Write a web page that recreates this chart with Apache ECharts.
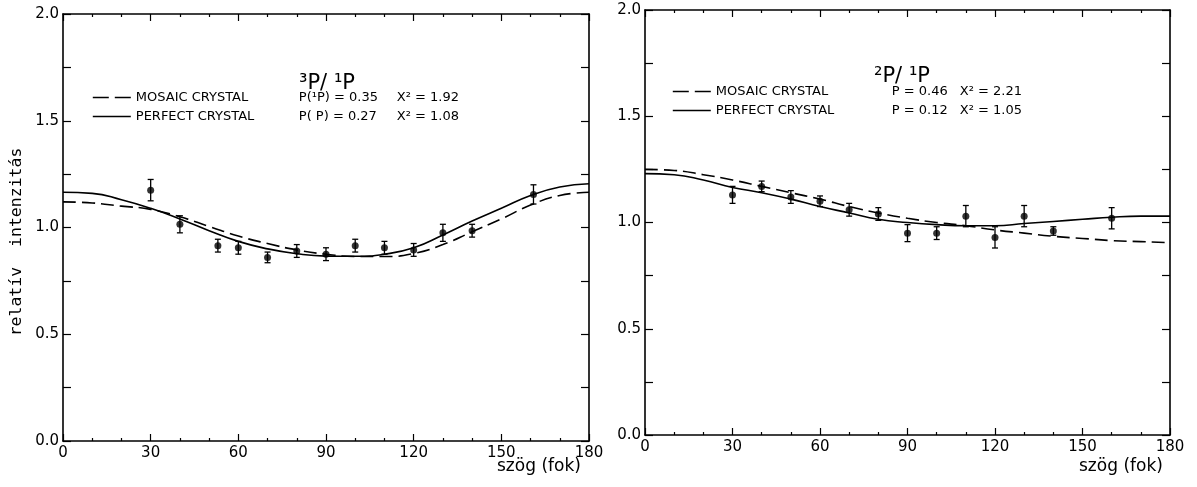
<!DOCTYPE html>
<html>
<head>
<meta charset="utf-8">
<script src="https://cdn.jsdelivr.net/npm/echarts@6/dist/echarts.min.js"></script>
<style>html,body{margin:0;padding:0;background:#fff}#c{width:1197px;height:487px}</style>
</head>
<body>
<div id="c"></div>
<script>
// ---- data ----
const curveAngles = [0,10,20,30,40,50,60,70,80,90,100,110,120,130,140,150,160,170,180];

// left panel: 3P/1P
const leftSolid  = [1.165,1.16,1.13,1.09,1.04,0.985,0.935,0.9,0.877,0.866,0.865,0.875,0.905,0.965,1.03,1.09,1.15,1.19,1.205];
const leftDashed = [1.12,1.115,1.10,1.085,1.05,1.005,0.96,0.925,0.895,0.875,0.864,0.864,0.878,0.92,0.98,1.04,1.105,1.15,1.165];
const leftAngles = [30,40,53,60,70,80,90,100,110,120,130,140,161];
const leftValues = [1.175,1.015,0.915,0.905,0.86,0.89,0.875,0.915,0.905,0.895,0.975,0.985,1.155];
const leftErrors = [0.05,0.04,0.03,0.03,0.025,0.03,0.03,0.03,0.03,0.03,0.04,0.03,0.045];

// right panel: 2P/1P
const rightSolid  = [1.23,1.225,1.20,1.165,1.14,1.11,1.075,1.045,1.015,1.0,0.99,0.985,0.985,0.995,1.005,1.015,1.025,1.03,1.03];
const rightDashed = [1.25,1.245,1.225,1.20,1.17,1.14,1.11,1.075,1.045,1.02,1.0,0.985,0.965,0.95,0.935,0.925,0.915,0.91,0.905];
const rightAngles = [30,40,50,60,70,80,90,100,110,120,130,140,160];
const rightValues = [1.13,1.17,1.12,1.10,1.06,1.04,0.95,0.95,1.03,0.93,1.03,0.96,1.02];
const rightErrors = [0.04,0.025,0.03,0.025,0.03,0.03,0.04,0.03,0.05,0.05,0.05,0.02,0.05];

const xTickLabels = ['0','30','60','90','120','150','180'];
const yTickLabels = ['0.0','0.5','1.0','1.5','2.0'];

const yAxisTitle = 'relatív  intenzitás';
const xAxisTitle = 'szög (fok)';
const leftTitle = '³P/ ¹P';
const rightTitle = '²P/ ¹P';
const leftLegend = {
  mosaic: ['MOSAIC CRYSTAL', 'P(¹P) = 0.35', 'X² = 1.92'],
  perfect: ['PERFECT CRYSTAL', 'P( P) = 0.27', 'X² = 1.08']
};
const rightLegend = {
  mosaic: ['MOSAIC CRYSTAL', 'P = 0.46', 'X² = 2.21'],
  perfect: ['PERFECT CRYSTAL', 'P = 0.12', 'X² = 1.05']
};

// ---- chart ----
const FONT = 'DejaVu Sans';
const chart = echarts.init(document.getElementById('c'), null, {renderer: 'canvas'});
const pairs = (xs, ys) => xs.map((x, i) => [x, ys[i]]);
const triples = (xs, ys, es) => xs.map((x, i) => [x, ys[i], es[i]]);

function xAxisPair(gi) {
  const base = {
    gridIndex: gi, type: 'value', min: 0, max: 180, interval: 30,
    axisLine: {show: true, onZero: false, lineStyle: {color: '#000', width: 1.6}},
    axisTick: {show: true, inside: true, length: 7, lineStyle: {color: '#000', width: 1.2}},
    minorTick: {show: true, splitNumber: 3, length: 3, lineStyle: {color: '#000', width: 1.2}},
    splitLine: {show: false}, minorSplitLine: {show: false}
  };
  return [
    Object.assign({}, base, {position: 'bottom',
      axisLabel: {show: true, color: '#000', fontFamily: FONT, fontSize: 15, margin: 5,
        formatter: v => xTickLabels[Math.round(v / 30)]}}),
    Object.assign({}, base, {position: 'top', axisLabel: {show: false}})
  ];
}
function yAxisPair(gi) {
  const base = {
    gridIndex: gi, type: 'value', min: 0, max: 2, interval: 0.25,
    axisLine: {show: true, onZero: false, lineStyle: {color: '#000', width: 1.6}},
    axisTick: {show: true, inside: true, length: 8, lineStyle: {color: '#000', width: 1.2}},
    splitLine: {show: false}
  };
  const left = Object.assign({}, base, {position: 'left',
    axisLabel: {show: true, color: '#000', fontFamily: FONT, fontSize: 15, margin: 4,
      formatter: v => (Math.abs(v * 2 - Math.round(v * 2)) < 1e-6) ? yTickLabels[Math.round(v * 2)] : ''}});
  return [left, Object.assign({}, base, {position: 'right', axisLabel: {show: false}})];
}

function errorBars(data, xi, yi) {
  return {
    type: 'custom', xAxisIndex: xi, yAxisIndex: yi, data: data, encode: {x: 0, y: 1},
    silent: true, z: 3,
    renderItem: function (params, api) {
      const x = api.value(0), y = api.value(1), e = api.value(2);
      const t = api.coord([x, y + e]);
      const b = api.coord([x, y - e]);
      const st = {stroke: '#000', lineWidth: 1.3};
      return {type: 'group', children: [
        {type: 'line', shape: {x1: t[0], y1: t[1], x2: b[0], y2: b[1]}, style: st},
        {type: 'line', shape: {x1: t[0] - 3, y1: t[1], x2: t[0] + 3, y2: t[1]}, style: st},
        {type: 'line', shape: {x1: b[0] - 3, y1: b[1], x2: b[0] + 3, y2: b[1]}, style: st}
      ]};
    }
  };
}
function curve(name, data, xi, yi, dashed) {
  return {
    type: 'line', name: name, xAxisIndex: xi, yAxisIndex: yi, data: data, smooth: 0.5,
    symbol: 'none', z: 2, itemStyle: {color: '#000'},
    lineStyle: {color: '#000', width: 1.6, type: dashed ? [13, 6] : 'solid'}
  };
}
function legendFor(names, leg, left, top, wa, wb) {
  const rich = {
    a: {width: wa, fontFamily: FONT, fontSize: 13, color: '#000'},
    b: {width: wb, fontFamily: FONT, fontSize: 13, color: '#000'},
    c: {fontFamily: FONT, fontSize: 13, color: '#000'}
  };
  return {
    data: [
      {name: names[0], lineStyle: {type: [16, 6], width: 1.6, color: '#000'}},
      {name: names[1], lineStyle: {type: 'solid', width: 1.6, color: '#000'}}
    ],
    orient: 'vertical', left: left, top: top, itemGap: 6,
    itemWidth: 38, itemHeight: 12, selectedMode: false,
    itemStyle: {color: 'rgba(0,0,0,0)', borderWidth: 0, opacity: 0},
    lineStyle: {color: '#000', width: 1.6},
    textStyle: {rich: rich},
    formatter: function (n) {
      const parts = n.indexOf('MOSAIC') >= 0 ? leg.mosaic : leg.perfect;
      return '{a|' + parts[0] + '}{b|' + parts[1] + '}{c|' + parts[2] + '}';
    }
  };
}

const lx = xAxisPair(0), rx = xAxisPair(1);
const ly = yAxisPair(0), ry = yAxisPair(1);

const option = {
  backgroundColor: '#fff',
  animation: false,
  grid: [
    {left: 63, top: 14, width: 526, height: 427},
    {left: 645, top: 10, width: 525, height: 425}
  ],
  xAxis: [lx[0], lx[1], rx[0], rx[1]],
  yAxis: [ly[0], ly[1], ry[0], ry[1]],
  title: [
    {text: leftTitle, left: 322, top: 68, textAlign: 'center',
      textStyle: {fontFamily: FONT, fontSize: 21, fontWeight: 'normal', color: '#000'}},
    {text: rightTitle, left: 897, top: 61, textAlign: 'center',
      textStyle: {fontFamily: FONT, fontSize: 21, fontWeight: 'normal', color: '#000'}}
  ],
  legend: [
    legendFor(['L MOSAIC', 'L PERFECT'], leftLegend, 87, 86, 163, 98),
    legendFor(['R MOSAIC', 'R PERFECT'], rightLegend, 667, 80, 176, 68)
  ],
  graphic: [
    {type: 'text', x: 17, y: 242, rotation: Math.PI / 2,
      style: {text: yAxisTitle, fontFamily: 'DejaVu Sans Mono', fontSize: 16.5, fill: '#000',
        align: 'center', verticalAlign: 'middle'}},
    {type: 'text', left: 497, top: 458, style: {text: xAxisTitle, fontFamily: FONT, fontSize: 17, fill: '#000'}},
    {type: 'text', left: 1079, top: 458, style: {text: xAxisTitle, fontFamily: FONT, fontSize: 17, fill: '#000'}}
  ],
  series: [
    curve('L MOSAIC', pairs(curveAngles, leftDashed), 0, 0, true),
    curve('L PERFECT', pairs(curveAngles, leftSolid), 0, 0, false),
    errorBars(triples(leftAngles, leftValues, leftErrors), 0, 0),
    {type: 'scatter', xAxisIndex: 0, yAxisIndex: 0, data: pairs(leftAngles, leftValues),
      symbol: 'circle', symbolSize: 7, itemStyle: {color: '#000'}, z: 4},
    curve('R MOSAIC', pairs(curveAngles, rightDashed), 2, 2, true),
    curve('R PERFECT', pairs(curveAngles, rightSolid), 2, 2, false),
    errorBars(triples(rightAngles, rightValues, rightErrors), 2, 2),
    {type: 'scatter', xAxisIndex: 2, yAxisIndex: 2, data: pairs(rightAngles, rightValues),
      symbol: 'circle', symbolSize: 7, itemStyle: {color: '#000'}, z: 4}
  ]
};
chart.setOption(option);
</script>
</body>
</html>
